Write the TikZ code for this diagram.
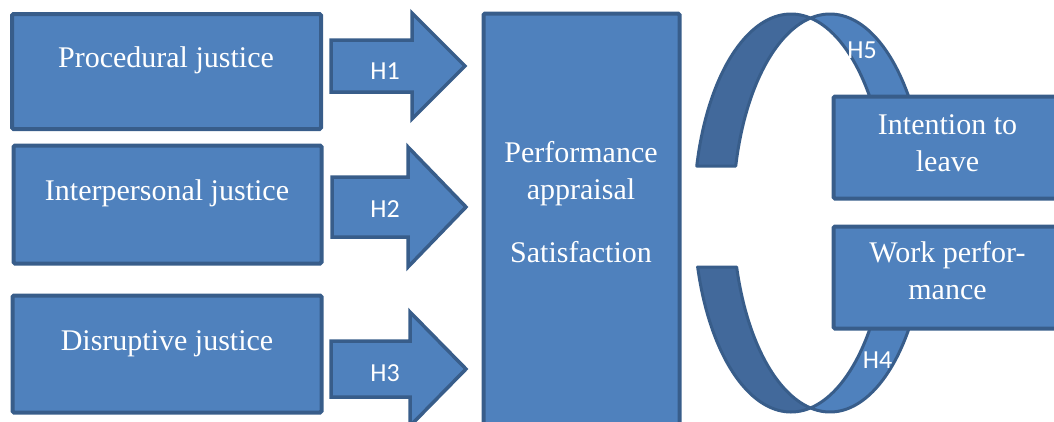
\documentclass[tikz,border=0pt]{standalone}
\usepackage{fontspec}
\setmainfont{Liberation Serif}
\newfontfamily\hfont{Carlito}
\definecolor{boxfill}{HTML}{4F81BD}
\definecolor{boxline}{HTML}{385D8A}
\definecolor{bandfill}{HTML}{42699B}
\tikzset{
  box/.style={draw=boxline, fill=boxfill, line width=4pt, rounded corners=1.5pt, inner sep=0pt},
  blockarrow/.style={draw=boxline, fill=boxfill, line width=3.5pt, line join=miter},
  band/.style={draw=boxline, line width=3pt, line join=round},
  txt/.style={text=white, font=\fontsize{30}{37}\selectfont, align=center, inner sep=0pt},
  hlab/.style={text=white, font=\hfont\fontsize{26}{30}\selectfont, inner sep=0pt},
}
\begin{document}
\begin{tikzpicture}[x=1pt, y=-1pt]
\useasboundingbox (0,0) rectangle (1054,421);

% justice dimensions
\node[box, minimum width=309pt, minimum height=115pt] (proc) at (166.5,71.5) {};
\node[box, minimum width=308pt, minimum height=118pt] (inter) at (167.5,204.5) {};
\node[box, minimum width=309pt, minimum height=117pt] (disr) at (167,354) {};
\node[txt, anchor=base] (procT) at (166,67) {Procedural justice};
\node[txt, anchor=base] (interT) at (167,200) {Interpersonal justice};
\node[txt, anchor=base] (disrT) at (167,350) {Disruptive justice};

% hypothesis block arrows
\draw[blockarrow] (331,40) -- (412,40) -- (412,13) -- (465,66) -- (412,119) -- (412,92) -- (331,92) -- cycle;
\draw[blockarrow] (332,177) -- (408,177) -- (408,147) -- (466,207) -- (408,267) -- (408,237) -- (332,237) -- cycle;
\draw[blockarrow] (331,341) -- (410,341) -- (410,312) -- (466,369) -- (410,426) -- (410,397) -- (331,397) -- cycle;
\node[hlab, anchor=base] (h1) at (385,79) {H1};
\node[hlab, anchor=base] (h2) at (385,217) {H2};
\node[hlab, anchor=base] (h3) at (385,381) {H3};

% mediator (base anchor = last line)
\node[box, minimum width=196pt, minimum height=436.5pt] (pas) at (581.5,231.75) {};
\node[txt, anchor=base] (pasT) at (581,262) {Performance\\appraisal\\[26pt]Satisfaction};

% curved loops: back faces
\filldraw[band, fill=boxfill]
  plot[domain=101.6:21.5, samples=60] ({830+97*cos(\x)},{213-199*sin(\x)})
  -- plot[domain=21.5:78.4, samples=60] ({791+97*cos(\x)},{213-199*sin(\x)}) -- cycle;
\filldraw[band, fill=boxfill]
  plot[domain=258.4:338.5, samples=60] ({830+97*cos(\x)},{213-199*sin(\x)})
  -- plot[domain=338.5:281.6, samples=60] ({791+97*cos(\x)},{213-199*sin(\x)}) -- cycle;
% curved loops: front faces
\filldraw[band, fill=bandfill]
  plot[domain=166.34:78.4, samples=60] ({791+97*cos(\x)},{213-199*sin(\x)})
  -- plot[domain=101.6:166.34, samples=60] ({830+97*cos(\x)},{213-199*sin(\x)}) -- cycle;
\filldraw[band, fill=bandfill]
  plot[domain=195.75:281.6, samples=60] ({791+97*cos(\x)},{213-199*sin(\x)})
  -- plot[domain=258.4:195.75, samples=60] ({830+97*cos(\x)},{213-199*sin(\x)}) -- cycle;
\node[hlab, anchor=base] (h5) at (862,58) {H5};
\node[hlab, anchor=base] (h4) at (877.5,368) {H4};

% outcomes
\node[box, minimum width=246.5pt, minimum height=102pt] (leave) at (956.75,147.5) {};
\node[box, minimum width=246.5pt, minimum height=102pt] (work) at (956.75,277.5) {};
\node[txt, anchor=base] (leaveT) at (947.5,171) {Intention to\\leave};
\node[txt, anchor=base] (workT) at (947.5,299) {Work perfor-\\mance};
\end{tikzpicture}
\end{document}
